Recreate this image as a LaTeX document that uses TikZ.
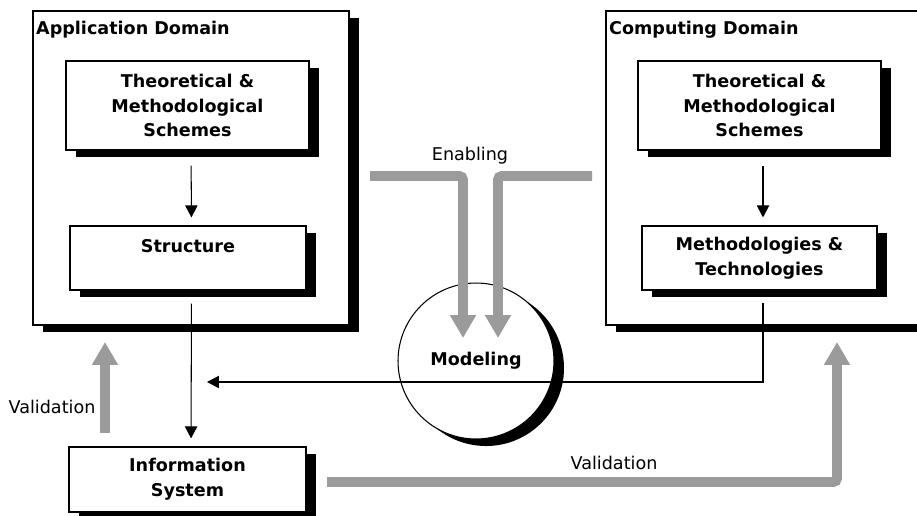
\documentclass[tikz,border=0pt]{standalone}
\usepackage{fontspec}
\setmainfont{DejaVu Sans}
\usepackage{tikz}
\usetikzlibrary{arrows.meta, positioning, shadows}
\usepackage{xcolor}
\definecolor{arrowgray}{RGB}{155,155,155}

\begin{document}
\begin{tikzpicture}[x=0.02cm, y=-0.02cm,
        blackshadow/.style={drop shadow={shadow xshift=5.7pt, shadow yshift=-4pt, opacity=1, fill=black}},
        domainbox/.style={rectangle, draw, line width=0.8pt, fill=white, blackshadow},
        schemebox/.style={rectangle, draw, line width=0.8pt, fill=white, blackshadow, align=center,
          font=\fontsize{10pt}{14pt}\selectfont\bfseries},
        domainlabel/.style={anchor=north west, inner sep=2pt, font=\fontsize{10pt}{12pt}\selectfont\bfseries},
        plainlabel/.style={font=\fontsize{10pt}{12pt}\selectfont},
        flow/.style={line width=0.6pt, -{Triangle[width=7pt, length=6.8pt]}},
        feedback/.style={draw=arrowgray, line width=5.5pt, rounded corners=2pt,
          -{Triangle[width=14pt, length=13pt]}}
      ]
        \useasboundingbox (0,0) rectangle (917,515);
        \clip (0,0) rectangle (917,515);

        % Domains
        \node[domainbox, minimum width=6.32cm, minimum height=6.28cm] (appdom) at (191,168) {};
        \node[domainbox, minimum width=7.08cm, minimum height=6.28cm] (compdom) at (783,168) {};
        \node[domainlabel] (applabel) at ([yshift=-4.2pt]appdom.north west) {Application Domain};
        \node[domainlabel] (complabel) at ([yshift=-4.2pt]compdom.north west) {Computing Domain};

        % Application side
        \node[schemebox, minimum width=4.86cm, minimum height=1.78cm] (appscheme) at (187.5,105.5)
          {Theoretical \&\\Methodological\\Schemes};
        \node[schemebox, minimum width=4.72cm, minimum height=1.28cm] (struct) at (188,258)
          {Structure\\~};

        % Computing side
        \node[schemebox, minimum width=4.86cm, minimum height=1.78cm] (compscheme) at (759.5,105.5)
          {Theoretical \&\\Methodological\\Schemes};
        \node[schemebox, minimum width=4.70cm, minimum height=1.28cm] (methtech) at (759.5,258)
          {Methodologies \&\\Technologies};

        % Information system
        \node[schemebox, minimum width=4.74cm, minimum height=1.30cm] (infosys) at (187.5,479.5)
          {Information\\System};

        % Modeling
        \node[circle, draw, line width=0.6pt, fill=white, blackshadow, minimum size=3.12cm,
          font=\fontsize{10pt}{12pt}\selectfont\bfseries] (model) at (476,361) {Modeling};

        % Black connectors
        \coordinate (modeltip) at (207,382);
        \draw[flow, shorten <=8.5pt, shorten >=4.5pt] ([xshift=2pt]appscheme.south) -- ([xshift=2pt]struct.north);
        \draw[flow, shorten <=8.5pt, shorten >=4.5pt] ([xshift=2pt]compscheme.south) -- ([xshift=2pt]methtech.north);
        \draw[flow, shorten <=7.4pt, shorten >=4.5pt] ([xshift=2pt]struct.south) -- ([xshift=2pt]infosys.north);
        \draw[flow, shorten <=7pt] ([xshift=2pt]methtech.south) |- (modeltip);

        % Enabling
        \node[plainlabel] (enablabel) at (470,156) {Enabling};
        \coordinate (enl) at (370,176);
        \coordinate (enltip) at (463,338);
        \coordinate (enr) at (592,176);
        \coordinate (enrtip) at (498,338);
        \draw[feedback] (enl) -| (enltip);
        \draw[feedback] (enr) -| (enrtip);

        % Validation
        \node[plainlabel] (leftval) at (52,407) {Validation};
        \node[plainlabel] (rightval) at (614,463) {Validation};
        \coordinate (lvstart) at (105,433);
        \coordinate (lvtip) at (105,342);
        \coordinate (rvstart) at (327,482);
        \coordinate (rvtip) at (837,342);
        \draw[feedback] (lvstart) -- (lvtip);
        \draw[feedback] (rvstart) -| (rvtip);
      \end{tikzpicture}
\end{document}
